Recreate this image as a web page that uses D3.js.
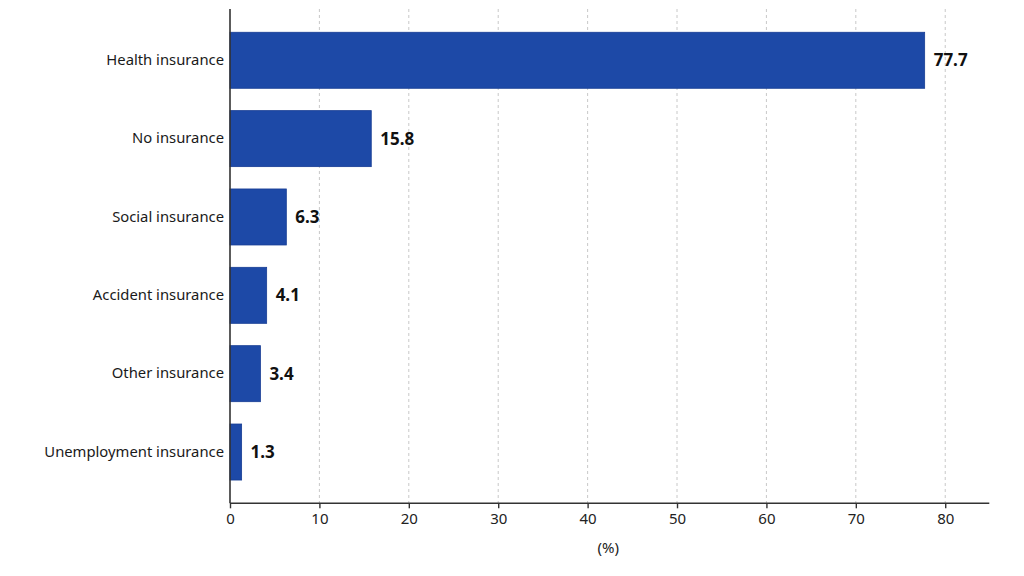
<!DOCTYPE html>
<html><head><meta charset="utf-8">
<script src="https://cdn.jsdelivr.net/npm/d3@7"></script>
<style>body{margin:0;background:#fff}svg{display:block}</style>
</head><body>
<svg id="c" width="1024" height="576"></svg>
<script>
const categories = ["Health insurance","No insurance","Social insurance","Accident insurance","Other insurance","Unemployment insurance"];
const values = [77.7, 15.8, 6.3, 4.1, 3.4, 1.3];
const xTicks = [0,10,20,30,40,50,60,70,80];
const xLabel = "(%)";

(function(){
const svg = d3.select("#c");
const mL = 230, mR = 989.3, mT = 9, mB = 503.3;
const x = d3.scaleLinear().domain([0, 84.93]).range([mL, mR]);
const y = d3.scaleBand().domain(categories).range([mT, mB]).paddingInner(0.285).paddingOuter(0.297);

// grid
svg.append("g").selectAll("line").data(xTicks.filter(d=>d>0)).join("line")
  .attr("x1", d=>x(d)).attr("x2", d=>x(d)).attr("y1", mT).attr("y2", mB)
  .attr("stroke", "#c8c8c8").attr("stroke-width", 1).attr("stroke-dasharray", "3,3");

// bars
svg.append("g").selectAll("rect").data(values).join("rect")
  .attr("x", x(0)).attr("y", (d,i)=>y(categories[i]))
  .attr("width", d=>x(d)-x(0)).attr("height", y.bandwidth())
  .attr("fill", "#1d49a7").attr("stroke", "#173d94").attr("stroke-width", 0.8);

// value labels
svg.append("g").selectAll("text").data(values).join("text")
  .attr("x", d=>x(d)+9).attr("y", (d,i)=>y(categories[i])+y.bandwidth()/2)
  .attr("dy", "0.36em")
  .attr("font-family", "Noto Sans").attr("font-weight", "bold").attr("font-size", 17)
  .attr("fill", "#111").text(d=>d.toFixed(1));

// x axis
const xa = svg.append("g").attr("transform", `translate(0,${mB})`)
  .call(d3.axisBottom(x).tickValues(xTicks).tickSize(5).tickPadding(5).tickFormat(d3.format("d")));
xa.select(".domain").attr("stroke", "#333").attr("stroke-width", 1.6).attr("d", `M${mL},0H${mR}`);
xa.selectAll(".tick line").attr("stroke", "#333").attr("stroke-width", 1.4);
xa.selectAll(".tick text").attr("font-family", "Noto Sans").attr("font-size", 15).attr("fill", "#222");

// y axis
const ya = svg.append("g").attr("transform", `translate(${mL},0)`)
  .call(d3.axisLeft(y).tickSize(0).tickPadding(6));
ya.select(".domain").attr("stroke", "#333").attr("stroke-width", 1.6).attr("d", `M0,${mT}V${mB}`);
ya.selectAll(".tick text").attr("font-family", "Noto Sans").attr("font-size", 14.8).attr("fill", "#1a1a1a");

svg.append("text").attr("x", x(42.3)).attr("y", 548).attr("dy","0.35em").attr("text-anchor","middle")
  .attr("font-family","Noto Sans").attr("font-size",15).attr("fill","#222").text(xLabel);
})();
</script>
</body></html>
